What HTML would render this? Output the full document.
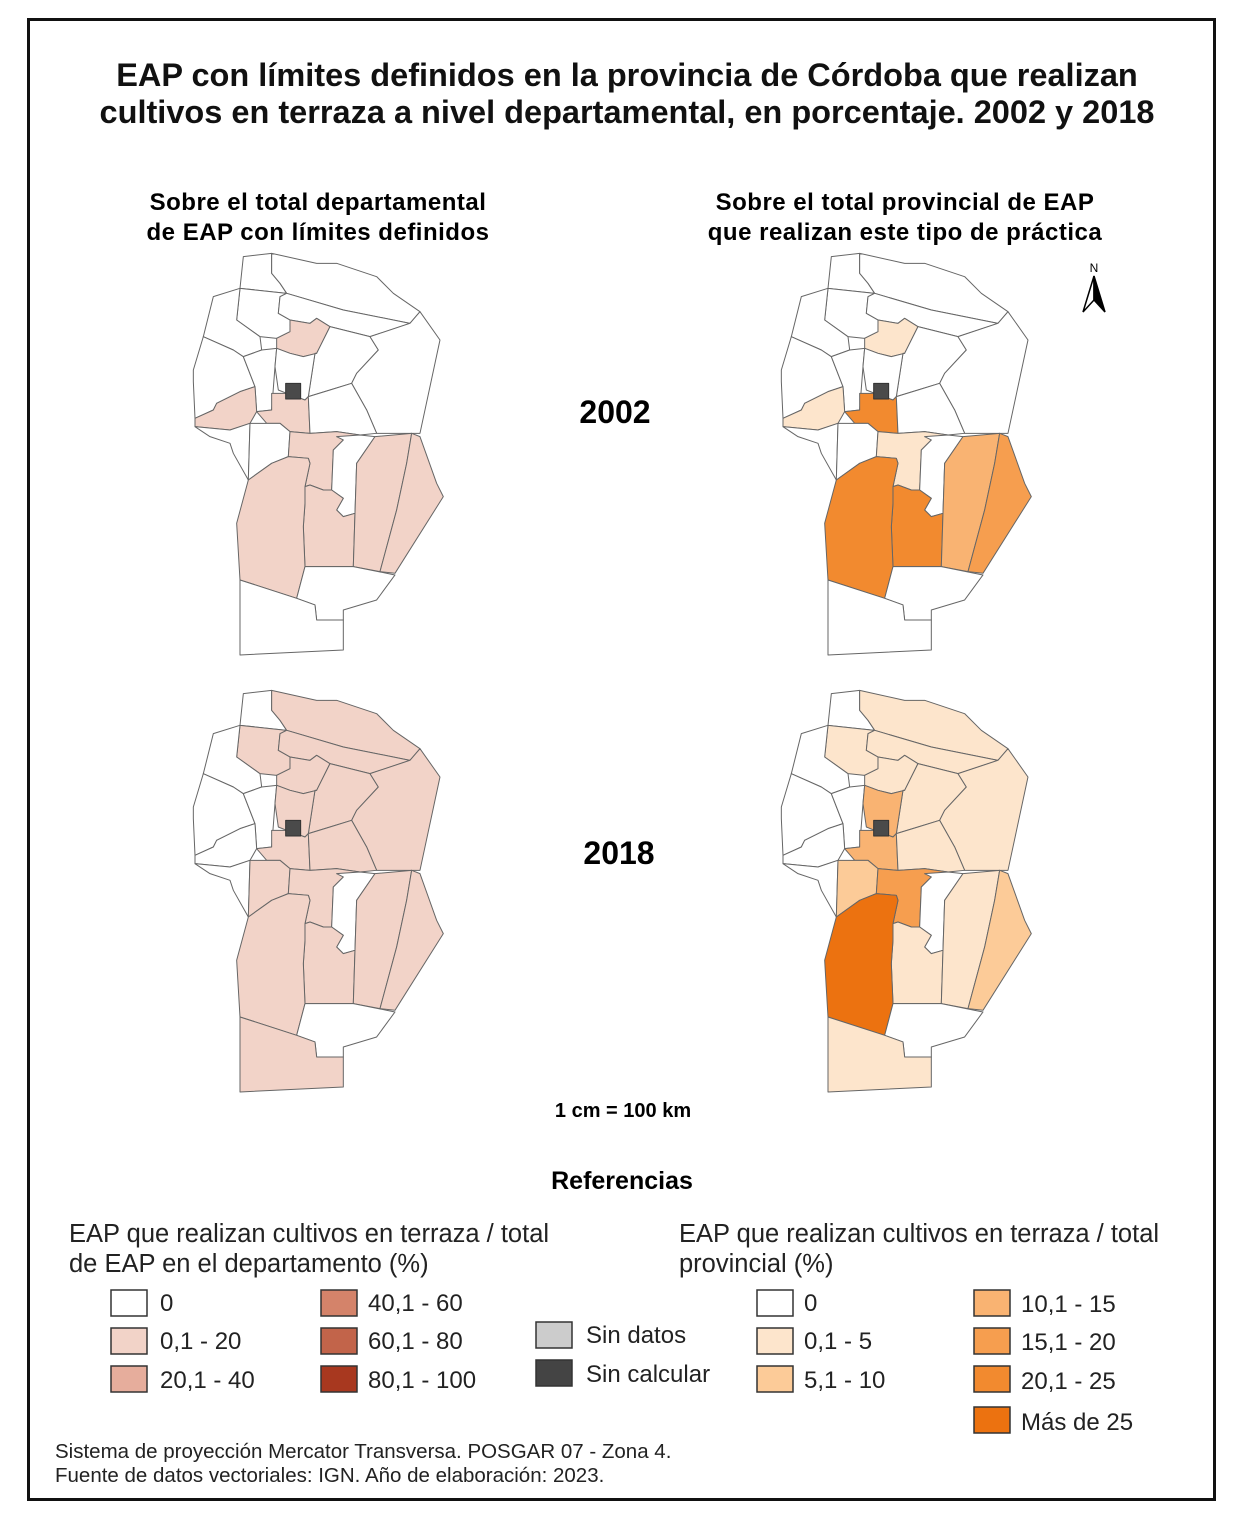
<!DOCTYPE html>
<html><head><meta charset="utf-8"><style>
html,body{margin:0;padding:0;background:#fff}
body{width:1238px;height:1517px;position:relative;overflow:hidden;font-family:"Liberation Sans",Arial,sans-serif}
svg{position:absolute;left:0;top:0}
</style></head><body>
<svg width="1238" height="1517" viewBox="0 0 1238 1517" font-family="Liberation Sans, Arial, sans-serif">
<rect x="28.5" y="19.5" width="1186" height="1480" fill="#fff" stroke="#111" stroke-width="3"/>
<text x="627" y="86" font-size="32.5" font-weight="bold" text-anchor="middle" fill="#111">EAP con límites definidos en la provincia de Córdoba que realizan</text>
<text x="627" y="123" font-size="32.5" font-weight="bold" text-anchor="middle" fill="#111">cultivos en terraza a nivel departamental, en porcentaje. 2002 y 2018</text>
<text x="318" y="210" font-size="24" font-weight="bold" text-anchor="middle" letter-spacing="0.5">Sobre el total departamental</text>
<text x="318" y="240" font-size="24" font-weight="bold" text-anchor="middle" letter-spacing="0.5">de EAP con límites definidos</text>
<text x="905" y="210" font-size="24" font-weight="bold" text-anchor="middle" letter-spacing="0.5">Sobre el total provincial de EAP</text>
<text x="905" y="240" font-size="24" font-weight="bold" text-anchor="middle" letter-spacing="0.5">que realizan este tipo de práctica</text>
<text x="1094" y="272" font-size="12" text-anchor="middle">N</text>
<path d="M1094 276 L1083 312 L1094 300 Z" fill="#fff" stroke="#000" stroke-width="1.5"/>
<path d="M1094 276 L1105 312 L1094 300 Z" fill="#000" stroke="#000" stroke-width="1.5"/>
<text x="615" y="423" font-size="32" font-weight="bold" text-anchor="middle">2002</text>
<text x="619" y="864" font-size="32" font-weight="bold" text-anchor="middle">2018</text>
<text x="623" y="1117" font-size="20" font-weight="bold" text-anchor="middle">1 cm = 100 km</text>
<text x="622" y="1189" font-size="25" font-weight="bold" text-anchor="middle">Referencias</text>

<g id="maps" stroke="#666" stroke-width="3" stroke-linejoin="round"></g>

<g font-size="24" fill="#222">
<text x="69" y="1242" font-size="25.5">EAP que realizan cultivos en terraza / total</text>
<text x="69" y="1272" font-size="25.5">de EAP en el departamento (%)</text>
<g stroke="#333" stroke-width="1.5">
<rect x="111" y="1290" width="36" height="26" fill="#fff"/>
<rect x="111" y="1328" width="36" height="26" fill="#f2d3c8"/>
<rect x="111" y="1366" width="36" height="26" fill="#e6ad9c"/>
<rect x="321" y="1290" width="36" height="26" fill="#d4836a"/>
<rect x="321" y="1328" width="36" height="26" fill="#c2644a"/>
<rect x="321" y="1366" width="36" height="26" fill="#a8381f"/>
<rect x="536" y="1322" width="36" height="26" fill="#cccccc"/>
<rect x="536" y="1360" width="36" height="26" fill="#444"/>
</g>
<text x="160" y="1311">0</text><text x="160" y="1349">0,1 - 20</text><text x="160" y="1388">20,1 - 40</text>
<text x="368" y="1311">40,1 - 60</text><text x="368" y="1349">60,1 - 80</text><text x="368" y="1388">80,1 - 100</text>
<text x="586" y="1343">Sin datos</text><text x="586" y="1382">Sin calcular</text>
<text x="679" y="1242" font-size="25.5">EAP que realizan cultivos en terraza / total</text>
<text x="679" y="1272" font-size="25.5">provincial (%)</text>
<g stroke="#333" stroke-width="1.5">
<rect x="757" y="1290" width="36" height="26" fill="#fff"/>
<rect x="757" y="1328" width="36" height="26" fill="#fde5cc"/>
<rect x="757" y="1366" width="36" height="26" fill="#fccb98"/>
<rect x="974" y="1290" width="36" height="26" fill="#f9b372"/>
<rect x="974" y="1328" width="36" height="26" fill="#f69e4f"/>
<rect x="974" y="1366" width="36" height="26" fill="#f28a2f"/>
<rect x="974" y="1407" width="36" height="26" fill="#ec7210"/>
</g>
<text x="804" y="1311">0</text><text x="804" y="1349">0,1 - 5</text><text x="804" y="1388">5,1 - 10</text>
<text x="1021" y="1312">10,1 - 15</text><text x="1021" y="1350">15,1 - 20</text><text x="1021" y="1389">20,1 - 25</text><text x="1021" y="1430">Más de 25</text>
</g>
<text x="55" y="1458" font-size="20.5" fill="#222">Sistema de proyección Mercator Transversa. POSGAR 07 - Zona 4.</text>
<text x="55" y="1482" font-size="20.5" fill="#222">Fuente de datos vectoriales: IGN. Año de elaboración: 2023.</text>
</svg>
<script>
var P={
A:"160,20 245,10 245,70 270,100 290,130 150,115",
B:"245,10 380,40 440,40 560,80 610,130 690,185 660,220 460,180 290,130 270,100 245,70",
C:"150,115 290,130 270,140 265,190 300,210 300,245 260,265 210,260 140,210",
D:"290,130 460,180 660,220 540,260 420,230 380,205 360,220 300,210 265,190 270,140",
E:"70,140 150,115 140,210 210,260 215,300 160,320 130,300 40,260",
F:"40,260 130,300 160,320 195,410 150,425 120,440 80,460 70,480 15,505 10,395 10,360",
G:"300,210 360,220 380,205 420,230 380,310 340,320 300,310 260,295 260,265 300,245",
H:"420,230 540,260 565,300 500,370 485,400 420,420 355,440 375,310 380,310",
I:"540,260 660,220 690,185 750,270 690,550 560,550 530,480 485,400 500,370 565,300",
J:"215,300 260,295 255,350 245,480 200,485 195,410 160,320",
K:"260,295 300,310 340,320 380,310 375,310 355,440 345,450 290,430 265,420 255,350",
L:"15,505 70,480 80,460 120,440 150,425 195,410 200,485 180,520 120,540 15,530",
M:"245,430 290,430 345,450 355,440 360,550 300,545 270,520 230,520 200,485 245,480",
W:"355,440 420,420 485,400 530,480 560,550 510,555 440,545 360,550",
F2:"15,530 120,540 180,520 175,690 130,610 120,580 60,560",
N:"180,520 230,520 270,520 300,545 295,620 245,640 175,690",
O:"300,545 360,550 440,545 510,555 460,570 430,600 425,720 400,720 360,705 345,710 360,640 355,625 295,620",
P:"440,560 510,555 555,560 500,640 495,790 460,800 440,780 460,745 425,720 430,600 460,570",
Q:"345,710 360,705 400,720 425,720 460,745 440,780 460,800 495,790 490,950 345,950 340,830 345,760",
R:"175,690 245,640 295,620 355,625 360,640 345,710 345,760 340,830 345,950 320,1045 150,990 140,820",
S:"555,560 665,550 650,640 620,780 570,965 490,950 495,790 500,640",
T:"665,550 690,560 740,700 760,740 615,970 570,965 620,780 650,640",
U:"345,950 490,950 615,975 560,1050 460,1080 460,1110 380,1110 375,1065 320,1045",
V:"150,990 320,1045 375,1065 380,1110 460,1110 460,1200 150,1215"
};
var pk="#f2d3c8",o1="#fde5cc",o2="#fccb98",o3="#f9b372",o4="#f69e4f",o5="#f28a2f",o6="#ec7210",w="#fff";
var maps=[
[190,250,{G:pk,L:pk,M:pk,O:pk,Q:pk,R:pk,S:pk,T:pk}],
[778,250,{G:o1,L:o1,M:o5,O:o1,Q:o5,R:o5,S:o3,T:o4}],
[190,687,{B:pk,C:pk,D:pk,G:pk,H:pk,I:pk,K:pk,M:pk,W:pk,N:pk,O:pk,Q:pk,R:pk,S:pk,T:pk,V:pk}],
[778,687,{B:o1,C:o1,D:o1,G:o1,H:o1,I:o1,K:o3,M:o3,W:o1,N:o2,O:o4,Q:o1,R:o6,S:o1,T:o2,V:o1}]];
var s="";
maps.forEach(function(m){
 s+='<g transform="translate('+m[0]+','+m[1]+') scale(0.3333)">';
 for(var k in P){s+='<polygon points="'+P[k]+'" fill="'+(m[2][k]||w)+'"/>';}
 s+='<rect x="287" y="400" width="45" height="47" fill="#4a4a4a" stroke="#333"/></g>';
});
document.getElementById("maps").innerHTML=s;
</script>
</body></html>
